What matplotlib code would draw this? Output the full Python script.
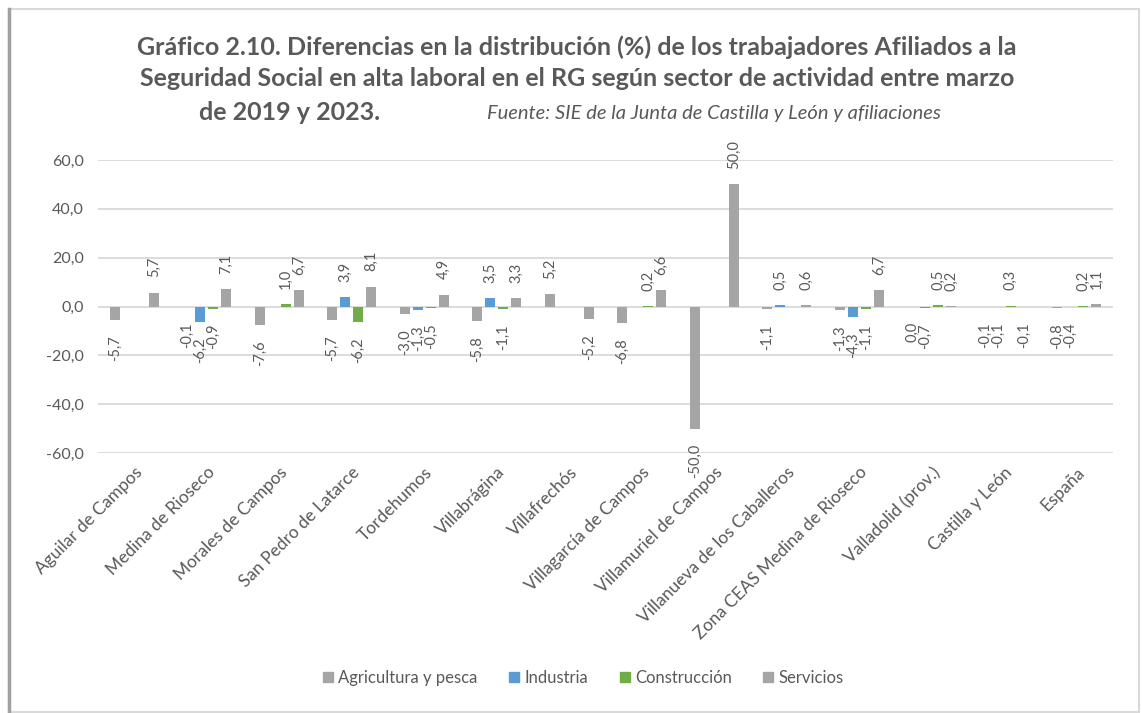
import numpy as np
import matplotlib
matplotlib.use("Agg")
import matplotlib.pyplot as plt
import matplotlib.transforms as mtransforms
from matplotlib.patches import Rectangle
from matplotlib.lines import Line2D

categories = ["Aguilar de Campos", "Medina de Rioseco", "Morales de Campos",
              "San Pedro de Latarce", "Tordehumos", "Villabrágina", "Villafrechós",
              "Villagarcía de Campos", "Villamuriel de Campos",
              "Villanueva de los Caballeros", "Zona CEAS Medina de Rioseco",
              "Valladolid (prov.)", "Castilla y León", "España"]
nan = np.nan
agricultura = [-5.7, -0.1, -7.6, -5.7, -3.0, -5.8, 5.2, -6.8, -50.0, -1.1, -1.3, -0.04, -0.1, -0.8]
industria = [nan, -6.2, nan, 3.9, -1.3, 3.5, nan, nan, nan, 0.5, -4.3, -0.7, -0.1, -0.4]
construccion = [nan, -0.9, 1.0, -6.2, -0.5, -1.1, nan, 0.2, nan, nan, -1.1, 0.5, 0.3, 0.2]
servicios = [5.7, 7.1, 6.7, 8.1, 4.9, 3.3, -5.2, 6.6, 50.0, 0.6, 6.7, 0.2, -0.1, 1.1]
series_names = ["Agricultura y pesca", "Industria", "Construcción", "Servicios"]
series_colors = ["#A5A5A5", "#5B9BD5", "#70AD47", "#A5A5A5"]
yticks = [-60, -40, -20, 0, 20, 40, 60]

FONT = "Lato"
TXT = "#595959"
plt.rcParams['font.family'] = [FONT, 'DejaVu Sans']


def fmt(v):
    s = f"{v:.1f}"
    if s == "-0.0":
        s = "0.0"
    return s.replace('.', ',')


fig = plt.figure(figsize=(11.42, 7.13), dpi=100)
ax = fig.add_axes([98/1142, 1-453/713, (1113-98)/1142, (453-160)/713])

x = np.arange(len(categories))
offsets = [-0.269, -0.0897, 0.0897, 0.269]
width = 0.138
data = [agricultura, industria, construccion, servicios]

for vals, off, col in zip(data, offsets, series_colors):
    v = np.array(vals, dtype=float)
    ax.bar(x + off, v, width=width, color=col, zorder=3)
    for xi, vi in zip(x, v):
        if np.isnan(vi):
            continue
        lab = fmt(vi)
        if vi >= 0:
            ax.annotate(lab, (xi + off, vi), xytext=(0, 11), textcoords='offset points',
                        rotation=90, ha='center', va='bottom', fontsize=10.5, color=TXT)
        else:
            ax.annotate(lab, (xi + off, vi), xytext=(0, -11), textcoords='offset points',
                        rotation=90, ha='center', va='top', fontsize=10.5, color=TXT)

ax.set_xlim(-0.5, len(categories) - 0.5)
ax.set_ylim(-60, 60)
ax.set_yticks(yticks)
ax.set_yticklabels([fmt(t) for t in yticks], fontsize=11.5, color=TXT)
ax.set_xticks(x)
ax.set_xticklabels(categories, rotation=45, ha='right', rotation_mode='anchor',
                   fontsize=12.5, color=TXT)
shift = mtransforms.ScaledTranslation(12/100, 0, fig.dpi_scale_trans)
for lbl in ax.get_xticklabels():
    lbl.set_transform(lbl.get_transform() + shift)
ax.tick_params(axis='both', length=0)
ax.tick_params(axis='y', pad=10)
ax.tick_params(axis='x', pad=8)
ax.grid(axis='y', color='#D9D9D9', linewidth=1.3, zorder=0)
for s in ax.spines.values():
    s.set_visible(False)

# title
fig.text(0.505, 1-47/713, "Gráfico 2.10. Diferencias en la distribución (%) de los trabajadores Afiliados a la",
         ha='center', va='center', fontsize=18, fontweight='bold', color=TXT)
fig.text(0.505, 1-79/713, "Seguridad Social en alta laboral en el RG según sector de actividad entre marzo",
         ha='center', va='center', fontsize=18, fontweight='bold', color=TXT)
fig.text(199/1142, 1-112/713, "de 2019 y 2023.", ha='left', va='center', fontsize=18,
         fontweight='bold', color=TXT)
fig.text(487/1142, 1-114/713, "Fuente: SIE de la Junta de Castilla y León y afiliaciones",
         ha='left', va='center', fontsize=14.5, style='italic', color=TXT)

handles = [Line2D([0], [0], marker='s', linestyle='none', markersize=7,
                  markerfacecolor=c, markeredgecolor=c) for c in series_colors]
fig.legend(handles, series_names, loc='center', bbox_to_anchor=(581/1142, 1-678/713),
           ncol=4, frameon=False, handletextpad=0.0, columnspacing=1.6, handlelength=1.2,
           labelcolor=TXT, prop={'family': FONT, 'size': 12})

# chart border
fig.patches.append(Rectangle((9/1142, 1/713), 1130/1142, 703/713, transform=fig.transFigure,
                             fill=False, edgecolor='#D9D9D9', linewidth=1.5))
fig.lines.append(Line2D([9/1142, 9/1142], [1/713, 704/713], transform=fig.transFigure,
                        color='#A0A0A0', linewidth=2.5))

fig.savefig("out.png", dpi=100)
